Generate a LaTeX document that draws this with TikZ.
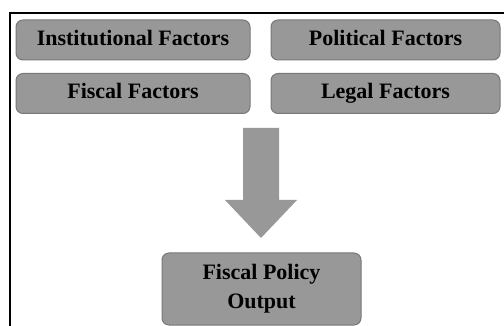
\documentclass[tikz,border=0pt]{standalone}
\usepackage{fontspec}
\setmainfont{Liberation Serif}
\definecolor{boxfill}{RGB}{152,152,152}
\definecolor{boxline}{RGB}{120,120,120}
\tikzset{
  factor/.style={draw=boxline, line width=1pt, fill=boxfill, rounded corners=7pt,
    font=\fontsize{22}{29}\selectfont\bfseries, text=black, inner sep=0pt,
    text height=15pt, text depth=4pt},
}
\begin{document}
\begin{tikzpicture}[x=1pt,y=-1pt]
  \useasboundingbox (0,0) rectangle (504,326);
  % frame: top and left edges
  \draw[line width=1.8pt] (504,13) -- (10,13) -- (10,326);
  % factor boxes
  \node[factor, minimum width=234pt, minimum height=40pt] (inst) at (133,40) {Institutional Factors};
  \node[factor, minimum width=229pt, minimum height=40pt] (pol) at (385.5,40) {Political Factors};
  \node[factor, minimum width=234pt, minimum height=40pt] (fisc) at (133,93.5) {Fiscal Factors};
  \node[factor, minimum width=229pt, minimum height=40pt] (leg) at (385.5,93.5) {Legal Factors};
  % outcome box
  \node[factor, minimum width=199pt, minimum height=72pt, align=center,
        text height=, text depth=] (out) at (261.5,289) {Fiscal Policy\\Output};
  % block arrow
  \coordinate (atip) at (261,238);
  \fill[boxfill] (243,128) -- (279,128) -- (279,200) -- (297,200) -- (atip)
     -- (225,200) -- (243,200) -- cycle;
\end{tikzpicture}
\end{document}
